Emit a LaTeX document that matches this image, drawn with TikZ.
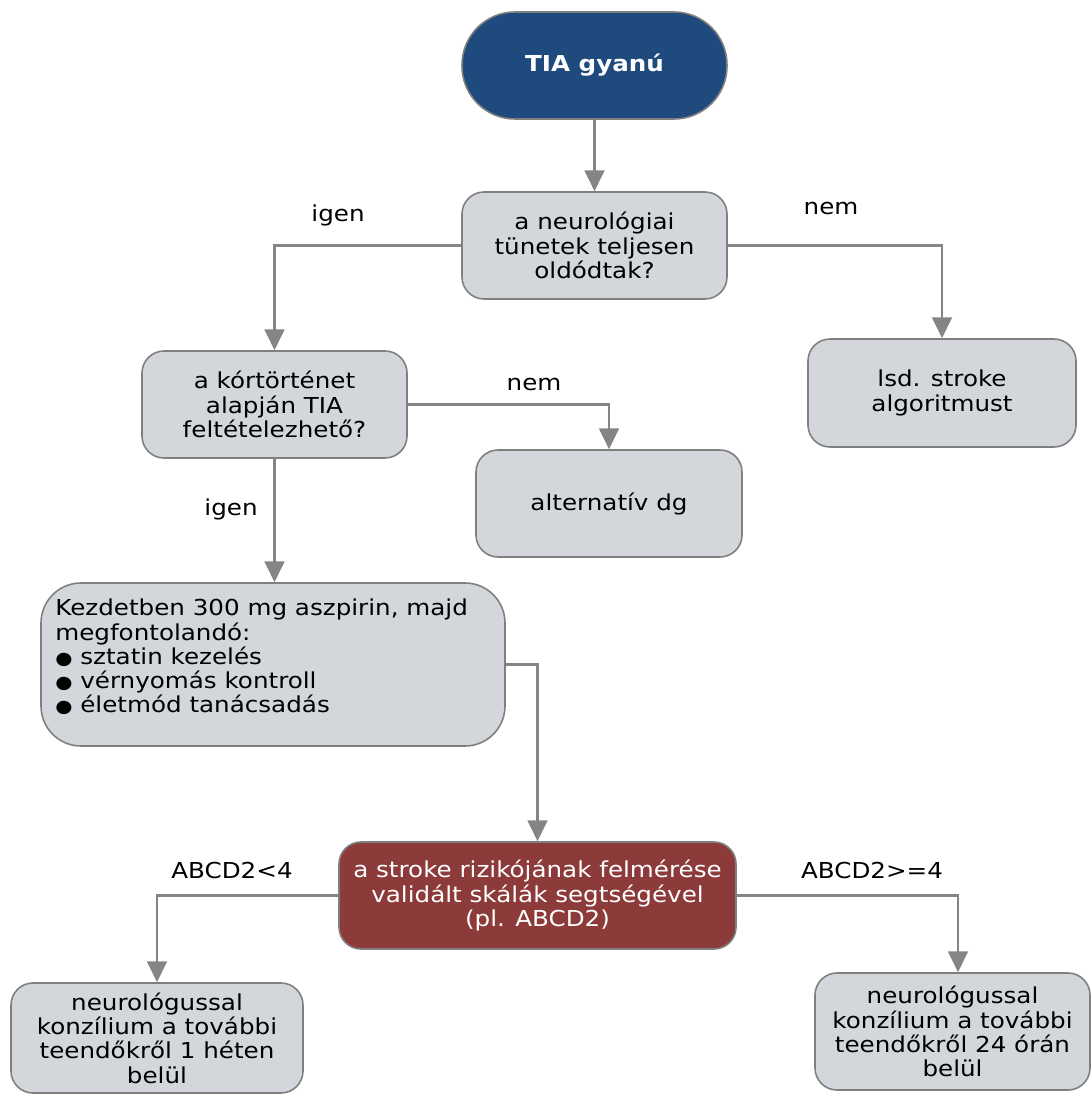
\documentclass[tikz,border=0pt]{standalone}
\usepackage{fontspec}
\setmainfont{DejaVu Sans}[FakeStretch=1.12]
\usetikzlibrary{arrows.meta}

\definecolor{startblue}{HTML}{1F4A7D}
\definecolor{riskred}{HTML}{8C3B3A}
\definecolor{boxgray}{HTML}{D3D7DB}
\definecolor{edgegray}{HTML}{7F7F7F}
\definecolor{linegray}{HTML}{858585}

\tikzset{
  sz/.style 2 args={minimum width=#1*0.02cm, minimum height=#2*0.02cm},
  base/.style={draw=edgegray, line width=0.9pt, inner sep=0pt, align=center,
    font=\fontsize{12.5pt}{13.8pt}\selectfont},
  stepbox/.style={base, fill=boxgray, rounded corners=0.44cm},
  startbox/.style={base, fill=startblue, text=white, rounded corners=1.06cm,
    font=\fontsize{12.5pt}{13.8pt}\selectfont\bfseries},
  riskbox/.style={base, fill=riskred, text=white, rounded corners=0.44cm},
  arr/.style={draw=linegray, line width=1.25pt,
    -{Triangle[width=11.3pt,length=11.9pt]}, fill=none},
  lbl/.style={font=\fontsize{12.5pt}{13.8pt}\selectfont, inner sep=0pt},
}

\begin{document}
\begin{tikzpicture}[x=0.02cm, y=-0.02cm]
\useasboundingbox (0,0) rectangle (1090,1094);

% boxes
\node[startbox, sz={265}{107}] (tia) at (594.5,65.5) {TIA gyanú};
\node[stepbox, sz={265}{107}] (q1) at (594.5,245.5)
  {a neurológiai\\tünetek teljesen\\oldódtak?};
\node[stepbox, sz={268}{108}] (lsd) at (942,393) {lsd. stroke\\algoritmust};
\node[stepbox, sz={265}{107}] (q2) at (274.5,404.5)
  {a kórtörténet\\alapján TIA\\feltételezhető?};
\node[stepbox, sz={266}{107}] (alt) at (609,503.5) {alternatív dg};
\node[stepbox, rounded corners=0.8cm, sz={464}{163}] (treat) at (273,664.5) {};
\node[lbl, anchor=west, align=left] (treattext) at (55,657)
  {Kezdetben 300 mg aszpirin, majd\\megfontolandó:\\
   {\fontsize{10pt}{13.8pt}\selectfont ●} sztatin kezelés\\
   {\fontsize{10pt}{13.8pt}\selectfont ●} vérnyomás kontroll\\
   {\fontsize{10pt}{13.8pt}\selectfont ●} életmód tanácsadás};
\node[riskbox, sz={397}{107}] (risk) at (537.5,895.5)
  {a stroke rizikójának felmérése\\validált skálák segtségével\\(pl. ABCD2)};
\node[stepbox, sz={292}{110}] (bl) at (157,1038)
  {neurológussal\\konzílium a további\\teendőkről 1 héten\\belül};
\node[stepbox, sz={275}{117}] (br) at (952.5,1031.5)
  {neurológussal\\konzílium a további\\teendőkről 24 órán\\belül};

% connectors
\draw[arr] (tia) -- (q1);
\draw[arr] (q1.west) -| (q2.north);
\draw[arr] (q1.east) -| (lsd.north);
\draw[arr] (q2.east) -| (alt.north);
\draw[arr] (q2.south) -- (q2.south |- treat.north);
\draw[arr] (treat.east) -| (risk.north);
\draw[arr] (risk.west) -| (bl.north);
\draw[arr] (risk.east) -| ([xshift=0.11cm]br.north);

% branch labels
\node[lbl] (l1) at (338,215) {igen};
\node[lbl] (l2) at (831,209) {nem};
\node[lbl] (l3) at (534,385) {nem};
\node[lbl] (l4) at (231,509) {igen};
\node[lbl] (l5) at (232,870) {ABCD2<4};
\node[lbl] (l6) at (872,870) {ABCD2>=4};
\end{tikzpicture}
\end{document}
